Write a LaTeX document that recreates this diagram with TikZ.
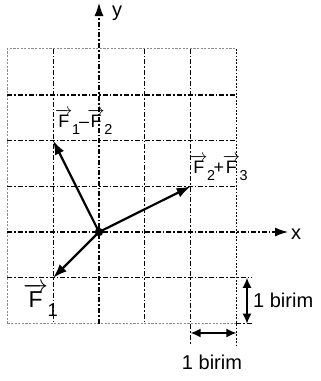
\documentclass[tikz,border=0pt]{standalone}
\usepackage{fontspec}
\setmainfont{Liberation Sans}
\usetikzlibrary{arrows.meta}
\newcommand\vF[1]{\ensuremath{\overrightarrow{\mbox{F}}}\kern-0.02em\raisebox{-0.42em}{\scalebox{0.8}{#1}}}
\tikzset{
  border/.style={draw=black!45, line width=1.2pt, dash pattern=on 2.2pt off 1.4pt},
  rborder/.style={draw=black, line width=1pt, dash pattern=on 1.8pt off 1.6pt},
  gridline/.style={draw=black, line width=1.2pt, dash pattern=on 5pt off 2pt on 1.6pt off 2pt},
  axis/.style={gridline, -{Latex[length=13pt,width=9pt]}},
  vec/.style={draw=black, line width=2.2pt, -{Latex[length=14pt,width=10pt]}},
  dim/.style={draw=black, line width=1.5pt, {Latex[length=10pt,width=9pt]}-{Latex[length=10pt,width=9pt]}},
  lab/.style={font=\fontsize{20}{22}\selectfont, inner sep=0pt},
  flab/.style={font=\fontsize{18}{20}\selectfont, inner sep=0pt},
}
\begin{document}
\begin{tikzpicture}[x=1pt,y=-1pt]
\useasboundingbox (0,0) rectangle (321,381);
% grid coordinates
\coordinate (O) at (99,232);
\coordinate (A) at (53.2,140.6);
\coordinate (B) at (190.6,186.4);
\coordinate (C) at (53.2,277.8);
% borders
\draw[border] (7.4,323.6) -- (7.4,48.8) -- (236.4,48.8);
\draw[border] (7.4,323.6) -- (236.4,323.6);
\draw[rborder] (236.4,48.8) -- (236.4,345);
\draw[gridline] (236.4,323.6) -- (252,323.6);
% interior lines
\draw[gridline] (53.2,48.8) -- (53.2,323.6);
\draw[gridline] (144.8,48.8) -- (144.8,323.6);
\draw[gridline] (190.6,48.8) -- (190.6,345);
\draw[gridline] (7.4,95) -- (236.4,95);
\draw[gridline] (7.4,140.6) -- (236.4,140.6);
\draw[gridline] (7.4,186.4) -- (236.4,186.4);
\draw[gridline] (7.4,277.8) -- (252,277.8);
% axes
\coordinate (ybot) at (99,323.6);
\coordinate (ytop) at (99,3);
\coordinate (xl) at (7.4,232);
\coordinate (xr) at (288,232);
\draw[axis] (ybot) -- (ytop);
\draw[axis] (xl) -- (xr);
\node[lab] (ylab) at (117,13) {y};
\node[lab] (xlab) at (296,234) {x};
% vectors
\draw[vec] (O) -- (A);
\draw[vec] (O) -- (B);
\draw[vec] (O) -- (C);
\fill (O) circle (4.2);
% labels
\node[flab, anchor=base west] (l1) at (55,127) {\vF{1}\kern-0.05em--\kern-0.1em\vF{2}};
\node[flab, anchor=base west] (l2) at (190,173) {\vF{2}\kern-0.08em+\kern-0.08em\vF{3}};
\node[font=\fontsize{23}{25}\selectfont, inner sep=0pt, anchor=base west] (l3) at (23,307) {\vF{1}};
% dimension arrows
\coordinate (d1) at (247,277.8);
\coordinate (d2) at (247,323.6);
\coordinate (d3) at (190.6,333);
\coordinate (d4) at (236.4,333);
\draw[dim] (d1) -- (d2);
\draw[dim] (d3) -- (d4);
\node[lab, anchor=west] (b1) at (253,300) {1 birim};
\node[lab] (b2) at (212,362) {1 birim};
\end{tikzpicture}
\end{document}
